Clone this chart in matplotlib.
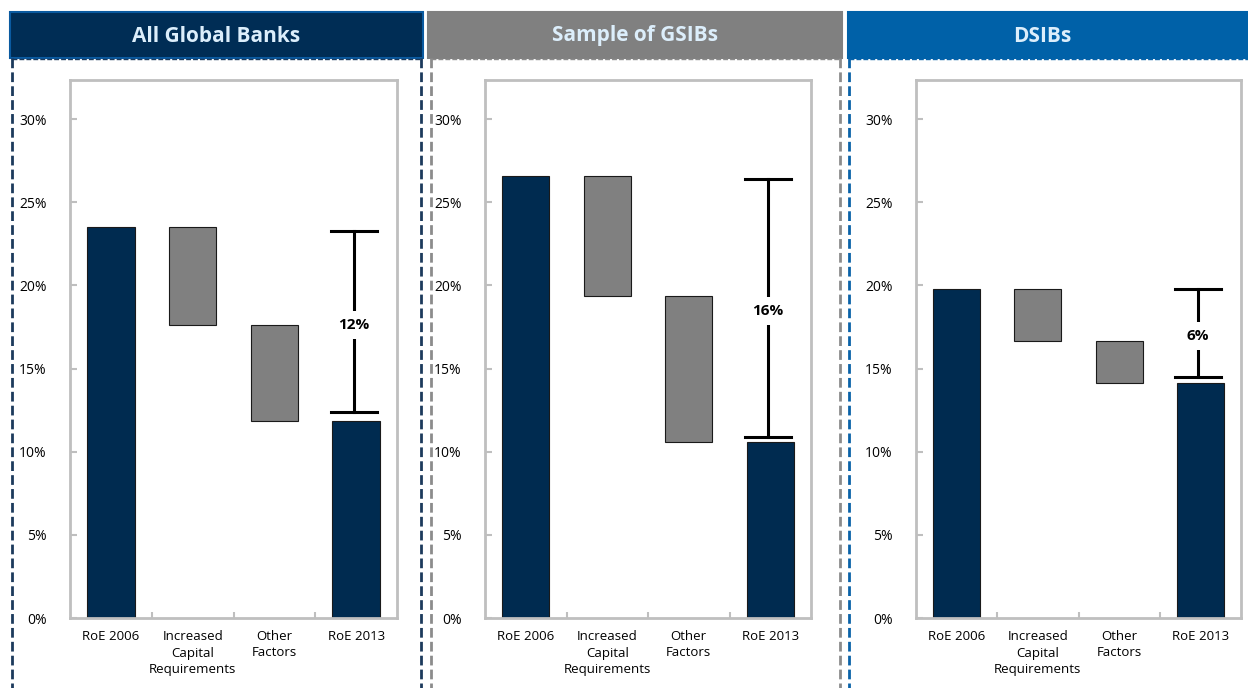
import matplotlib.pyplot as plt
from matplotlib.patches import Rectangle
from matplotlib.lines import Line2D

plt.rcParams['font.family'] = ['Open Sans', 'DejaVu Sans']

W, H = 1248, 688

categories = ["RoE 2006", "Increased\nCapital\nRequirements", "Other\nFactors", "RoE 2013"]
titles = ["All Global Banks", "Sample of GSIBs", "DSIBs"]

# RoE levels (%): start, after capital requirements, after other factors
roe_2006 = [23.5, 26.6, 19.8]
after_capital = [17.6, 19.35, 16.65]
roe_2013 = [11.85, 10.6, 14.15]

# bracket ends and labels for the drop
bracket_top = [23.25, 26.4, 19.8]
bracket_bottom = [12.4, 10.9, 14.5]
bracket_labels = ["12%", "16%", "6%"]

navy = "#002b50"
grey = "#808080"
header_fill = ["#002d55", "#808080", "#0061a8"]
frame_col = ["#1c3a5c", "#8c8c8c", "#0a62a8"]

# pixel boxes: header (x0, x1), frame (x0, x1), axes (x0, x1)
header_x = [(10, 423), (428, 842), (848, 1260)]
frame_x = [(12, 421), (431, 840), (849, 1260)]
axes_x = [(70, 397), (485, 811), (916, 1241)]
title_cx = [216, 635, 1042]

fig = plt.figure(figsize=(W / 100, H / 100), dpi=100)


def fx(px):
    return px / W


def fy(py):
    return 1 - py / H


for i in range(3):
    # header band
    hx0, hx1 = header_x[i]
    edge = "#0a5aa0" if i == 0 else header_fill[i]
    fig.patches.append(Rectangle((fx(hx0), fy(58)), fx(hx1 - hx0), (58 - 12) / H,
                                 transform=fig.transFigure, facecolor=header_fill[i],
                                 edgecolor=edge, linewidth=1.5, zorder=1))
    fig.text(fx(title_cx[i]), fy(36), titles[i],
             ha="center", va="center", color="#dceefb", fontsize=15, fontweight="bold")

    # dashed frame below header
    f0, f1 = frame_x[i]
    for xs, ys in [((f0, f0), (58, H)), ((f1, f1), (58, H)), ((f0, f1), (59, 59))]:
        lw = 2 if xs[0] == xs[1] else 1
        fig.add_artist(Line2D([fx(xs[0]), fx(xs[1])], [fy(ys[0]), fy(ys[1])],
                              transform=fig.transFigure, color=frame_col[i],
                              linestyle=(0, (3.5, 1.5)), linewidth=lw))

    # waterfall chart
    ax0, ax1 = axes_x[i]
    ax = fig.add_axes([fx(ax0), fy(618), fx(ax1 - ax0), (618 - 80) / H])
    x = range(4)
    bottoms = [0, after_capital[i], roe_2013[i], 0]
    tops = [roe_2006[i], roe_2006[i], after_capital[i], roe_2013[i]]
    colors = [navy, grey, grey, navy]
    ax.bar(x, [t - b for t, b in zip(tops, bottoms)], bottom=bottoms, width=0.58,
           color=colors, edgecolor="#1a1a1a", linewidth=0.8, zorder=2)

    # bracket showing the overall drop
    bx = 3 - 0.03
    ax.plot([bx, bx], [bracket_bottom[i], bracket_top[i]], color="black", lw=2.2, zorder=3)
    for yv in (bracket_bottom[i], bracket_top[i]):
        ax.plot([bx - 0.28, bx + 0.28], [yv, yv], color="black", lw=2.2, zorder=3)
    ax.text(bx, (bracket_bottom[i] + bracket_top[i]) / 2 - 0.2, bracket_labels[i],
            ha="center", va="center", fontsize=11, fontweight="bold", zorder=4,
            bbox=dict(facecolor="white", edgecolor="none", pad=5))

    ax.set_xlim(-0.5, 3.5)
    ax.set_ylim(0, 32.35)
    ax.set_yticks([0, 5, 10, 15, 20, 25, 30])
    ax.set_yticklabels([f"{v}%" for v in [0, 5, 10, 15, 20, 25, 30]])
    ax.set_xticks(list(x))
    ax.set_xticklabels(categories, fontsize=9.5, linespacing=1.3)
    ax.set_xticks([0.5, 1.5, 2.5], minor=True)
    ax.tick_params(axis="x", which="major", length=0, pad=9)
    ax.tick_params(axis="x", which="minor", direction="in", length=4, color="#bfbfbf", width=1.5)
    ax.tick_params(axis="y", direction="in", length=5, color="#bfbfbf", width=1.5,
                   labelsize=10, pad=17)
    for s in ax.spines.values():
        s.set_color("#bfbfbf")
        s.set_linewidth(2)

fig.savefig("out.png", dpi=100)
